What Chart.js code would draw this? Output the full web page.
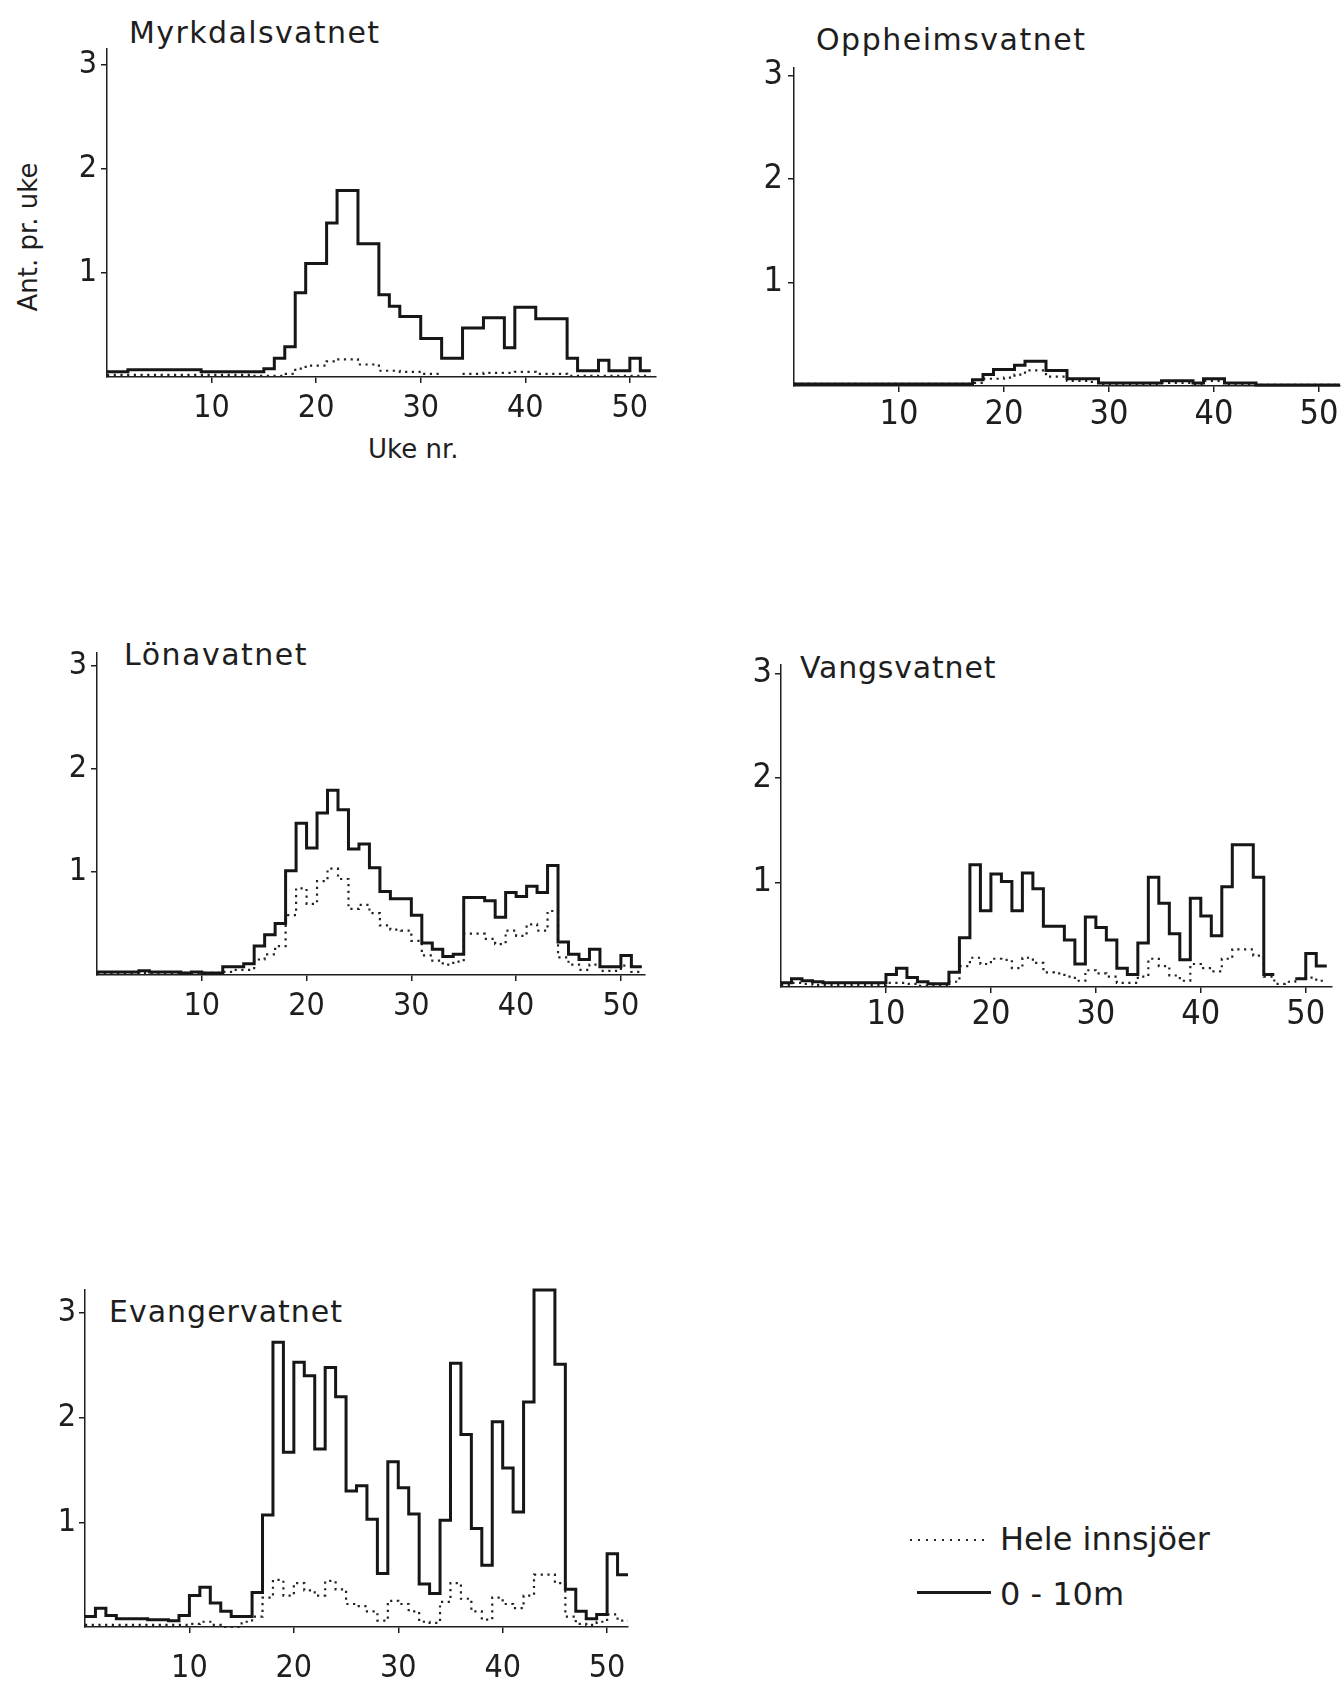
<!DOCTYPE html>
<html lang="no">
<head>
<meta charset="UTF-8">
<title>Ant. pr. uke</title>
<script src="https://cdn.jsdelivr.net/npm/chart.js"></script>
<style>
  html, body { margin: 0; padding: 0; background: #fff; }
  body { width: 1341px; height: 1681px; position: relative; overflow: hidden;
         font-family: 'DejaVu Sans', sans-serif; color: #1e1e1e; }
  canvas { position: absolute; }
  .lbl { position: absolute; white-space: nowrap; line-height: 1; }
  .title { font-size: 30px; }
</style>
</head>
<body>
<div class="lbl title" style="left:129px;top:18px;letter-spacing:1.4px;">Myrkdalsvatnet</div>
<div class="lbl title" style="left:816px;top:25px;letter-spacing:1.5px;">Oppheimsvatnet</div>
<div class="lbl title" style="left:124px;top:640px;letter-spacing:1.5px;">Lönavatnet</div>
<div class="lbl title" style="left:800px;top:653px;letter-spacing:0.8px;">Vangsvatnet</div>
<div class="lbl title" style="left:109px;top:1297px;letter-spacing:1px;">Evangervatnet</div>

<div class="lbl" style="left:28px;top:237px;font-size:26px;transform:translate(-50%,-50%) rotate(-90deg);">Ant. pr. uke</div>
<div class="lbl" style="left:368px;top:436px;font-size:26px;">Uke nr.</div>

<div style="position:absolute;left:910px;top:1539px;width:80px;height:2px;background:repeating-linear-gradient(to right,#222 0 2px,transparent 2px 8px);"></div>
<div class="lbl" style="left:1000px;top:1523px;font-size:32px;">Hele innsjöer</div>
<div style="position:absolute;left:917px;top:1591px;width:74px;height:3px;background:#1a1a1a;"></div>
<div class="lbl" style="left:1000px;top:1578px;font-size:32px;">0 - 10m</div>

<script>
// Axis ticks
const xTicks = [10, 20, 30, 40, 50];
const yTicks = [1, 2, 3];

// Weekly values, week 1..52 (solid = 0-10 m, dotted = hele innsjøer)
const myrkSolid = [0.05, 0.05, 0.07, 0.07, 0.07, 0.07, 0.07, 0.07, 0.07, 0.05, 0.05, 0.05, 0.05,
  0.05, 0.05, 0.08, 0.18, 0.29, 0.81, 1.09, 1.09, 1.48, 1.79, 1.79, 1.28, 1.28, 0.79, 0.68, 0.58,
  0.58, 0.37, 0.37, 0.18, 0.18, 0.47, 0.47, 0.57, 0.57, 0.28, 0.67, 0.67, 0.56, 0.56, 0.56, 0.18,
  0.06, 0.06, 0.16, 0.06, 0.06, 0.18, 0.06];
const myrkDotted = [0.02, 0.02, 0.02, 0.02, 0.02, 0.02, 0.02, 0.02, 0.02, 0.02, 0.02, 0.02, 0.02,
  0.02, 0.01, 0.01, 0.01, 0.03, 0.08, 0.11, 0.11, 0.15, 0.17, 0.17, 0.12, 0.12, 0.06, 0.06, 0.05,
  0.05, 0.03, 0.03, null, null, 0.03, 0.03, 0.04, 0.04, 0.04, 0.05, 0.05, 0.03, 0.03, 0.03, 0.01,
  0.01, 0.01, 0.01, 0.01, 0.01, 0.01, 0.01];

const oppSolid = [0.02, 0.02, 0.02, 0.02, 0.02, 0.02, 0.02, 0.02, 0.02, 0.02, 0.02, 0.02, 0.02,
  0.02, 0.02, 0.02, 0.02, 0.06, 0.11, 0.16, 0.16, 0.2, 0.24, 0.24, 0.15, 0.15, 0.07, 0.07, 0.07,
  0.03, 0.03, 0.03, 0.03, 0.03, 0.03, 0.05, 0.05, 0.05, 0.03, 0.07, 0.07, 0.03, 0.03, 0.03, 0.01,
  0.01, 0.01, 0.01, 0.01, 0.01, 0.01, 0.01];
const oppDotted = [0.02, 0.02, 0.02, 0.02, 0.02, 0.02, 0.02, 0.02, 0.02, 0.02, 0.02, 0.02, 0.02,
  0.02, 0.02, 0.02, 0.02, 0.03, 0.07, 0.07, 0.08, 0.11, 0.15, 0.15, 0.09, 0.09, 0.05, 0.05, 0.04,
  0.02, 0.02, 0.02, 0.02, 0.02, 0.02, 0.03, 0.03, 0.03, 0.02, 0.05, 0.05, 0.02, 0.02, 0.02, 0.01,
  0.01, 0.01, 0.01, 0.01, 0.01, 0.01, 0.01];

const lonaSolid = [0.03, 0.03, 0.03, 0.03, 0.04, 0.03, 0.03, 0.03, 0.02, 0.03, 0.02, 0.02, 0.08,
  0.08, 0.11, 0.28, 0.39, 0.5, 1.01, 1.47, 1.23, 1.57, 1.79, 1.6, 1.22, 1.27, 1.04, 0.81, 0.74,
  0.74, 0.58, 0.31, 0.25, 0.18, 0.2, 0.75, 0.75, 0.72, 0.56, 0.8, 0.76, 0.86, 0.8, 1.06, 0.32,
  0.2, 0.15, 0.25, 0.08, 0.08, 0.19, 0.08];
const lonaDotted = [0.02, 0.02, 0.02, 0.02, 0.02, 0.02, 0.02, 0.02, 0.02, 0.02, 0.02, 0.02, 0.03,
  0.05, 0.05, 0.15, 0.2, 0.28, 0.58, 0.84, 0.69, 0.91, 1.03, 0.93, 0.64, 0.68, 0.6, 0.48, 0.44,
  0.43, 0.33, 0.19, 0.14, 0.1, 0.13, 0.4, 0.4, 0.35, 0.3, 0.43, 0.38, 0.49, 0.43, 0.62, 0.17,
  0.1, 0.05, 0.1, 0.04, 0.04, 0.09, 0.03];

const vangSolid = [0.04, 0.08, 0.06, 0.05, 0.04, 0.04, 0.04, 0.04, 0.04, 0.04, 0.12, 0.18, 0.09,
  0.05, 0.03, 0.03, 0.14, 0.47, 1.17, 0.73, 1.08, 1.01, 0.73, 1.09, 0.94, 0.58, 0.58, 0.45, 0.22,
  0.67, 0.57, 0.45, 0.18, 0.12, 0.42, 1.05, 0.8, 0.51, 0.26, 0.85, 0.68, 0.49, 0.96, 1.36, 1.36,
  1.05, 0.12, null, null, 0.08, 0.32, 0.2];
const vangDotted = [0.02, 0.04, 0.03, 0.02, 0.02, 0.02, 0.02, 0.02, 0.02, 0.02, 0.04, 0.04, 0.03,
  0.01, 0.01, 0.01, 0.05, 0.2, 0.28, 0.22, 0.27, 0.26, 0.18, 0.28, 0.23, 0.14, 0.13, 0.1, 0.06,
  0.16, 0.13, 0.1, 0.04, 0.04, 0.1, 0.27, 0.2, 0.11, 0.06, 0.22, 0.18, 0.15, 0.27, 0.36, 0.36,
  0.3, 0.1, 0.03, 0.05, 0.08, 0.09, 0.06];

const evaSolid = [0.1, 0.18, 0.11, 0.08, 0.08, 0.08, 0.07, 0.07, 0.06, 0.11, 0.3, 0.38, 0.23,
  0.15, 0.1, 0.1, 0.33, 1.07, 2.72, 1.67, 2.53, 2.4, 1.7, 2.48, 2.2, 1.3, 1.35, 1.03, 0.51,
  1.58, 1.33, 1.08, 0.41, 0.32, 1.02, 2.52, 1.84, 0.94, 0.59, 1.96, 1.52, 1.1, 2.15, 3.22, 3.22,
  2.51, 0.36, 0.15, 0.08, 0.12, 0.7, 0.5];
const evaDotted = [0.02, 0.02, 0.02, 0.02, 0.02, 0.02, 0.02, 0.02, 0.02, 0.02, 0.03, 0.05, 0.02,
  0.0, 0.0, 0.05, 0.1, 0.28, 0.45, 0.3, 0.42, 0.35, 0.3, 0.44, 0.36, 0.22, 0.2, 0.15, 0.06,
  0.25, 0.22, 0.15, 0.05, 0.04, 0.24, 0.42, 0.27, 0.15, 0.07, 0.28, 0.22, 0.18, 0.3, 0.5, 0.5,
  0.42, 0.1, 0.03, 0.02, 0.05, 0.12, 0.06];

const FONT = "'Liberation Sans Narrow', 'DejaVu Sans Condensed', sans-serif";
const INK = '#1e1e1e';

// each week holds its value from w-1 to w
function steps(vals) {
  const pts = [];
  vals.forEach((v, i) => {
    if (v === null) { pts.push({ x: i + 0.5, y: null }); return; }
    pts.push({ x: i, y: v });
    pts.push({ x: i + 1, y: v });
  });
  return pts;
}

function panel(box, solid, dotted) {
  const padTop = 30, padRight = 24, yW = 60, xH = 70;
  const areaW = box.xMax * box.pxWeek;
  const areaH = box.yMax * box.unit;
  const cv = document.createElement('canvas');
  cv.width = Math.round(areaW + yW + padRight);
  cv.height = Math.round(areaH + padTop + xH);
  cv.style.left = (box.left - yW) + 'px';
  cv.style.top = (box.y0 - areaH - padTop) + 'px';
  document.body.appendChild(cv);

  const grid = { drawOnChartArea: false, drawTicks: true, tickLength: 6, color: INK, lineWidth: 1.5 };
  const border = { display: true, color: INK, width: 1.5 };

  new Chart(cv, {
    type: 'line',
    data: {
      datasets: [
        { data: steps(solid), borderColor: '#161616', borderWidth: 3, pointRadius: 0,
          spanGaps: false, borderJoinStyle: 'miter', clip: 4 },
        { data: steps(dotted), borderColor: '#222', borderWidth: 2.2, borderDash: [2.2, 4.5],
          pointRadius: 0, spanGaps: false, clip: 4 }
      ]
    },
    options: {
      responsive: false,
      animation: false,
      devicePixelRatio: 1,
      parsing: false,
      layout: { padding: { top: padTop, right: padRight, left: 0, bottom: 0 } },
      plugins: { legend: { display: false }, tooltip: { enabled: false } },
      scales: {
        x: {
          type: 'linear', min: 0, max: box.xMax,
          afterBuildTicks: s => { s.ticks = xTicks.map(v => ({ value: v })); },
          afterFit: s => { s.height = xH; },
          ticks: { font: { family: FONT, size: box.fs }, color: INK, padding: box.xPad,
                   maxRotation: 0, autoSkip: false },
          grid: grid, border: border
        },
        y: {
          type: 'linear', min: 0, max: box.yMax,
          afterBuildTicks: s => { s.ticks = yTicks.map(v => ({ value: v })); },
          afterFit: s => { s.width = yW; },
          ticks: { font: { family: FONT, size: box.fs }, color: INK, padding: box.yPad },
          grid: grid, border: border
        }
      }
    }
  });
}

panel({ left: 107, pxWeek: 10.45, xMax: 52.5, y0: 377, unit: 104, yMax: 3.15, fs: 32, yPad: 4, xPad: 6 },
  myrkSolid, myrkDotted);
panel({ left: 794, pxWeek: 10.5, xMax: 52, y0: 386, unit: 103.7, yMax: 3.07, fs: 34, yPad: 5, xPad: 3 },
  oppSolid, oppDotted);
panel({ left: 97, pxWeek: 10.47, xMax: 52.3, y0: 975, unit: 103.3, yMax: 3.12, fs: 32, yPad: 4, xPad: 6 },
  lonaSolid, lonaDotted);
panel({ left: 781, pxWeek: 10.5, xMax: 52.5, y0: 987, unit: 104.7, yMax: 3.08, fs: 34, yPad: 3, xPad: 2 },
  vangSolid, vangDotted);
panel({ left: 85, pxWeek: 10.45, xMax: 52, y0: 1627, unit: 104.7, yMax: 3.22, fs: 32, yPad: 3, xPad: 16 },
  evaSolid, evaDotted);
</script>
</body>
</html>
